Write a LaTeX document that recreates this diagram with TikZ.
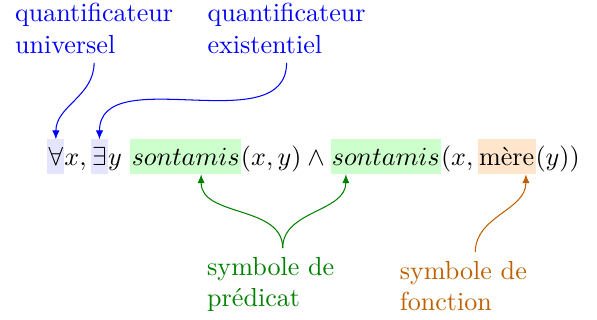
\documentclass[tikz,border=0pt]{standalone}
\usepackage{tikz}
\usetikzlibrary{arrows.meta, positioning}
\usepackage{xcolor}

\begin{document}
\begin{tikzpicture}[
        hl/.style={fill=#1, inner xsep=0.5pt, inner ysep=0pt, outer sep=0pt, text height=10.2pt, text depth=3.2pt, anchor=base west},
        txt/.style={inner sep=0pt, outer sep=0pt, anchor=base west},
        note/.style={align=left, anchor=base west, text=#1},
        >={Latex[length=3.4pt, width=2.8pt]}
      ]
        \useasboundingbox (0,0) rectangle (8.039,4.309);
        % formule
        \node[hl=blue!10] (fa) at (0.637,2.074) {$\forall$};
        \node[txt] (t1) at (fa.base east) {$x,\,$};
        \node[hl=blue!10] (ex) at (t1.base east) {$\exists$};
        \node[txt] (t2) at (ex.base east) {$y\ $};
        \node[hl=green!20] (sa) at (t2.base east) {$sontamis$};
        \node[txt] (t3) at (sa.base east) {$(x,y) \wedge {}$};
        \node[hl=green!20] (sb) at (t3.base east) {$sontamis$};
        \node[txt] (t4) at (sb.base east) {$(x,\,$};
        \node[hl=orange!20] (me) at (t4.base east) {mère};
        \node[txt] (t5) at (me.base east) {$(y))$};

        % etiquettes
        \node[note=blue] (uq) at (0.078,3.591) {quantificateur\\universel};
        \node[note=blue] (eq) at (2.670,3.591) {quantificateur\\existentiel};
        \node[note=green!50!black] (sp) at (2.666,0.179) {symbole de\\prédicat};
        \node[note=orange!75!black] (sf) at (5.260,0.125) {symbole de\\fonction};

        \draw[->, blue] (uq.south) to[out=-90, in=90] (fa.north);
        \draw[->, blue] (eq.south) to[out=-90, in=90] (ex.north);
        \draw[->, green!50!black] ([xshift=4.6pt]sp.north) to[out=90, in=-90] ([xshift=5.9pt]sa.south);
        \draw[->, green!50!black] ([xshift=4.6pt]sp.north) to[out=90, in=-90] ([xshift=-15.3pt]sb.south);
        \draw[->, orange!75!black] ([xshift=4.6pt]sf.north) to[out=90, in=-90] ([xshift=7.4pt]me.south);
    \end{tikzpicture}
\end{document}
